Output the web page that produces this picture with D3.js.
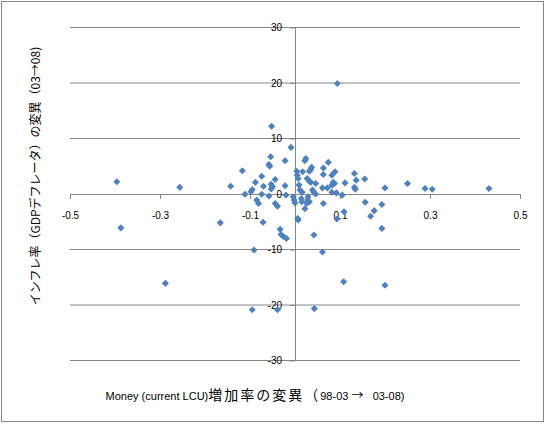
<!DOCTYPE html>
<html lang="ja">
<head>
<meta charset="UTF-8" />
<title>Money growth vs inflation</title>
<script src="https://d3js.org/d3.v7.min.js"></script>
<style>
  body { margin: 0; background: #fff; }
  svg { display: block; }
  .tick text { font-family: "Liberation Sans", Arial, sans-serif; font-size: 10px; fill: #000; }
</style>
</head>
<body>
<div id="chart"></div>
<script>
// Money (current LCU) growth change (98-03 -> 03-08)
var moneyChange = [
  0.094, -0.052, -0.009, -0.054, -0.022, -0.058, -0.056, 0.024, 0.022, 0.037,
  0.035, 0.032, 0.074, 0.063, 0.089, 0.063, 0.082, 0.132, 0.004, 0.005,
  0.017, 0.027, 0.031, 0.035, 0.046, 0.009, 0.155, 0.136, 0.111, 0.085,
  0.088, 0.082, 0.132, 0.134, 0.061, 0.072, 0.039, 0.042, 0.046, 0.016,
  0.082, 0.092, 0.105, 0.2, 0.25, 0.289, 0.305, 0.431, -0.396, -0.256,
  -0.143, -0.117, -0.074, -0.044, -0.088, -0.07, -0.053, -0.05, -0.022, -0.095,
  -0.098, -0.053, -0.111, -0.074, -0.058, -0.02, 0.007, 0.011, 0.029, -0.004,
  -0.002, 0.0, 0.014, 0.015, 0.028, 0.032, 0.026, 0.022, 0.063, 0.156,
  0.176, 0.193, 0.168, 0.109, 0.093, 0.193, 0.042, 0.006, 0.007, -0.085,
  -0.081, -0.044, -0.039, -0.071, -0.033, -0.031, -0.026, -0.019, -0.166, -0.387,
  -0.091, 0.061, -0.288, 0.108, 0.2, -0.095, -0.039, 0.043
]
// inflation (GDP deflator) change (03 -> 08)
var inflChange = [
  19.9, 12.2, 8.4, 6.7, 6.0, 5.3, 5.0, 6.4, 6.0, 4.8,
  4.4, 4.1, 5.7, 4.7, 4.0, 3.5, 3.4, 3.7, 4.1, 3.4,
  4.0, 2.8, 2.4, 2.1, 1.9, 1.6, 2.7, 2.5, 2.0, 2.1,
  1.9, 1.6, 1.2, 0.85, 1.1, 1.1, 0.7, 0.3, 0.0, 0.3,
  0.3, 0.2, -0.2, 1.1, 1.9, 1.0, 0.85, 1.0, 2.2, 1.2,
  1.4, 4.2, 3.2, 2.6, 2.1, 1.4, 1.75, 1.3, 1.5, 0.8,
  0.4, 0.9, -0.05, -0.05, -0.35, -0.2, 2.8, 0.7, -0.5, -0.5,
  -1.1, -1.6, -0.8, -1.4, -1.1, -1.4, -1.7, -2.65, -1.7, -1.5,
  -3.0, -1.9, -4.0, -3.2, -4.5, -6.2, -7.4, -4.4, -4.7, -1.1,
  -1.7, -1.7, -2.2, -5.1, -6.35, -7.3, -7.65, -8.0, -5.2, -6.1,
  -10.1, -10.45, -16.1, -15.8, -16.45, -20.85, -20.85, -20.65
]
var xTicks = [-0.5, -0.3, -0.1, 0.1, 0.3, 0.5]
var yTicks = [-30, -20, -10, 0, 10, 20, 30]

var width = 550, height = 426
var gridColor = "#868686"

var svg = d3.select("#chart").append("svg")
  .attr("width", width)
  .attr("height", height)

// chart border
svg.append("rect")
  .attr("x", 1.5).attr("y", 1.5)
  .attr("width", 542).attr("height", 420)
  .attr("fill", "#fff")
  .attr("stroke", gridColor)

var x = d3.scaleLinear().domain([-0.5, 0.5]).range([70, 520])
var y = d3.scaleLinear().domain([-30, 30]).range([360.5, 27.5])

// horizontal gridlines
svg.append("g")
  .selectAll("line")
  .data(yTicks.filter(function(d){ return d !== 0 }))
  .enter().append("line")
    .attr("x1", x(-0.5)).attr("x2", x(0.5))
    .attr("y1", function(d){ return y(d) }).attr("y2", function(d){ return y(d) })
    .attr("stroke", gridColor)

// x axis crossing at y = 0
var xAxis = svg.append("g")
  .attr("transform", "translate(0," + y(0) + ")")
  .call(d3.axisBottom(x).tickValues(xTicks).tickSize(5).tickSizeOuter(0).tickPadding(13)
    .tickFormat(function(d){ return d3.format(".1f")(d).replace("−", "-") }))
xAxis.selectAll("path, line").attr("stroke", gridColor)

// y axis crossing at x = 0
var yAxis = svg.append("g")
  .attr("transform", "translate(" + x(0) + ",0)")
  .call(d3.axisLeft(y).tickValues(yTicks).tickSize(5).tickSizeOuter(0).tickPadding(8)
    .tickFormat(function(d){ return String(d) }))
yAxis.selectAll("path, line").attr("stroke", gridColor)

// points
var diamond = d3.symbol().type(d3.symbolSquare).size(25)
svg.append("g")
  .selectAll("path")
  .data(d3.range(moneyChange.length))
  .enter().append("path")
    .attr("d", diamond)
    .attr("transform", function(i){ return "translate(" + x(moneyChange[i]) + "," + y(inflChange[i]) + ") rotate(45)" })
    .attr("fill", "#4F81BD")

// axis titles
var cjk = "'Noto Sans CJK JP', sans-serif"
var xt = svg.append("text")
  .attr("x", 255).attr("y", 400)
  .attr("text-anchor", "middle")
  .attr("xml:space", "preserve")
  .style("font-family", "'Liberation Sans', 'Noto Sans CJK JP', sans-serif")
  .style("font-size", "11px")
xt.append("tspan").text("Money (current LCU)")
xt.append("tspan").style("font-family", cjk).style("font-size", "14px")
  .style("letter-spacing", "2px").text("増加率の変異（")
xt.append("tspan").text("98-03 ")
xt.append("tspan").style("font-family", cjk).style("font-size", "12px").text("→")
xt.append("tspan").text("   03-08)")

svg.append("text")
  .attr("transform", "translate(34,176) rotate(-90)")
  .attr("text-anchor", "middle")
  .attr("dominant-baseline", "central")
  .style("font-family", cjk)
  .style("font-size", "12px")
  .text("インフレ率（GDPデフレータ）の変異（03→08)")
</script>
</body>
</html>
